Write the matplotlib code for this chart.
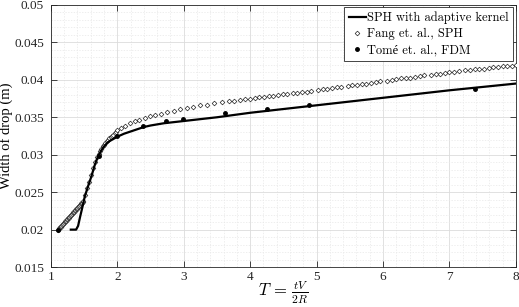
import matplotlib
matplotlib.use("Agg")
import matplotlib.pyplot as plt
from matplotlib.ticker import MultipleLocator

# SPH with adaptive kernel (solid line)
sph_T = [1.30, 1.38, 1.41, 1.44, 1.48, 1.51, 1.56, 1.61, 1.66, 1.71, 1.76, 1.80,
         1.84, 1.88, 1.92, 1.96, 2.00, 2.10, 2.20, 2.30, 2.40, 2.50, 2.70, 3.00,
         3.50, 4.00, 5.00, 6.00, 7.00, 8.00]
sph_W = [0.0200, 0.0200, 0.0205, 0.0217, 0.0232, 0.0244, 0.0258, 0.0271, 0.0286,
         0.0298, 0.0306, 0.0311, 0.0315, 0.0318, 0.0320, 0.0322, 0.0324, 0.0328,
         0.0331, 0.0334, 0.0337, 0.0339, 0.0342, 0.0345, 0.0350, 0.0356, 0.0366,
         0.0376, 0.0386, 0.0395]

# Fang et. al., SPH (diamonds)
fang_T = [1.11, 1.12, 1.13, 1.14, 1.15, 1.16, 1.17, 1.18, 1.19, 1.20, 1.21, 1.22,
          1.23, 1.24, 1.25, 1.26, 1.27, 1.28, 1.29, 1.30, 1.31, 1.32, 1.33, 1.34,
          1.35, 1.36, 1.37, 1.38, 1.39, 1.40, 1.41, 1.42, 1.43, 1.44, 1.45, 1.46,
          1.47, 1.48, 1.49,
          1.52, 1.55, 1.58, 1.61, 1.64, 1.67, 1.70, 1.72, 1.74, 1.76, 1.78, 1.80,
          1.82, 1.84, 1.86, 1.88, 1.90, 1.92, 1.94, 1.96, 1.98, 2.00,
          2.05, 2.12, 2.19, 2.26, 2.33, 2.41, 2.49, 2.57, 2.66, 2.75, 2.85, 2.95,
          3.05, 3.14, 3.24, 3.35, 3.46, 3.57, 3.68, 3.76, 3.84, 3.92, 4.00, 4.07,
          4.14, 4.21, 4.28, 4.35, 4.42, 4.49, 4.56, 4.64, 4.71, 4.78, 4.85, 4.92,
          5.02, 5.09, 5.16, 5.23, 5.30, 5.37, 5.47, 5.54, 5.61, 5.68, 5.75, 5.82,
          5.89, 5.96, 6.06, 6.13, 6.20, 6.27, 6.34, 6.41, 6.48, 6.55, 6.62, 6.72,
          6.79, 6.86, 6.93, 7.00, 7.07, 7.14, 7.24, 7.31, 7.38, 7.45, 7.52, 7.59,
          7.66, 7.73, 7.80, 7.87, 7.94, 8.00]
fang_W = [0.0200, 0.0201, 0.0202, 0.0203, 0.0204, 0.0205, 0.0206, 0.0207, 0.0208,
          0.0209, 0.0210, 0.0211, 0.0212, 0.0213, 0.0214, 0.0215, 0.0216, 0.0217,
          0.0218, 0.0219, 0.0220, 0.0221, 0.0222, 0.0223, 0.0224, 0.0225, 0.0226,
          0.0227, 0.0228, 0.0229, 0.0230, 0.0231, 0.0232, 0.0233, 0.0234, 0.0235,
          0.0236, 0.0237, 0.0238,
          0.0246, 0.0255, 0.0264, 0.0273, 0.0282, 0.0290, 0.0297, 0.0301, 0.0305,
          0.0308, 0.0311, 0.0313, 0.0316, 0.0318, 0.0320, 0.0322, 0.0324, 0.0325,
          0.0327, 0.0329, 0.0331, 0.0333,
          0.0336, 0.0339, 0.0342, 0.0345, 0.0347, 0.0349, 0.0352, 0.0353, 0.0355,
          0.0357, 0.0359, 0.0361, 0.0363, 0.0364, 0.0366, 0.0367, 0.0369, 0.0370,
          0.0372, 0.0372, 0.0373, 0.0374, 0.0375, 0.0376, 0.0377, 0.0377, 0.0378,
          0.0379, 0.0380, 0.0381, 0.0381, 0.0382, 0.0383, 0.0384, 0.0384, 0.0385,
          0.0387, 0.0388, 0.0388, 0.0389, 0.0390, 0.0391, 0.0392, 0.0393, 0.0393,
          0.0394, 0.0395, 0.0396, 0.0397, 0.0398, 0.0399, 0.0400, 0.0401, 0.0402,
          0.0402, 0.0403, 0.0404, 0.0405, 0.0406, 0.0407, 0.0408, 0.0408, 0.0409,
          0.0410, 0.0411, 0.0412, 0.0413, 0.0413, 0.0414, 0.0415, 0.0415, 0.0416,
          0.0417, 0.0417, 0.0418, 0.0419, 0.0419, 0.0420]

# Tome et. al., FDM (dots)
tome_T = [1.11, 1.72, 2.00, 2.38, 2.74, 2.99, 3.62, 4.25, 4.88, 7.38]
tome_W = [0.0200, 0.0298, 0.0325, 0.0338, 0.03455, 0.0348, 0.0356, 0.0361, 0.0367, 0.0388]

x_ticks = [1, 2, 3, 4, 5, 6, 7, 8]
y_ticks = [0.015, 0.02, 0.025, 0.03, 0.035, 0.04, 0.045, 0.05]
y_tick_labels = ["0.015", "0.02", "0.025", "0.03", "0.035", "0.04", "0.045", "0.05"]

plt.rcParams['mathtext.fontset'] = 'cm'

fig = plt.figure(figsize=(5.19, 3.07), dpi=100)
ax = fig.add_axes([0.098, 0.130, 0.896, 0.854])

ax.plot(fang_T, fang_W, linestyle='none', marker='D', markersize=2.4,
        markerfacecolor='white', markeredgecolor='#222222', markeredgewidth=0.5,
        label='Fang et. al., SPH', zorder=3)
ax.plot(sph_T, sph_W, color='black', linewidth=1.6, label='SPH with adaptive kernel', zorder=4)
ax.plot(tome_T, tome_W, linestyle='none', marker='o', markersize=2.5,
        color='black', label='Tomé et. al., FDM', zorder=5)

ax.set_xlim(1, 8)
ax.set_ylim(0.015, 0.05)
ax.set_xticks(x_ticks)
ax.set_yticks(y_ticks)
ax.set_yticklabels(y_tick_labels)
ax.xaxis.set_minor_locator(MultipleLocator(0.2))
ax.yaxis.set_minor_locator(MultipleLocator(0.001))

ax.grid(True, which='major', color='#dcdcdc', linewidth=0.6, linestyle='-')
ax.grid(True, which='minor', color='#e8e8e8', linewidth=0.5, linestyle=(0, (2, 2)))
ax.set_axisbelow(True)

ax.tick_params(which='both', direction='in', top=True, right=True, color='#262626')
ax.tick_params(which='major', length=4, width=0.6, labelsize=9.5)
ax.tick_params(axis='x', which='major', pad=3)
ax.tick_params(axis='y', which='major', pad=5)
ax.tick_params(which='minor', length=0)
for lab in ax.get_xticklabels() + ax.get_yticklabels():
    lab.set_fontfamily('Liberation Serif')
    lab.set_color('#262626')
for sp in ax.spines.values():
    sp.set_color('#262626')
    sp.set_linewidth(0.6)

ax.set_ylabel('Width of drop (m)', fontfamily='Liberation Serif', fontsize=10.5)
ax.yaxis.set_label_coords(-0.081, 0.5)
ax.set_xlabel(r'$T\,=\,\frac{tV}{2R}$', fontsize=12, labelpad=-2)

handles, labels = ax.get_legend_handles_labels()
order = [1, 0, 2]
leg = ax.legend([handles[i] for i in order], [labels[i] for i in order],
                loc='upper right', prop={'family': ['cmr10', 'Liberation Serif'], 'size': 9},
                frameon=True, fancybox=False, edgecolor='#262626', framealpha=1,
                handlelength=1.4, handletextpad=0.1, borderpad=0.35, labelspacing=0.3,
                borderaxespad=0.2)
leg.get_frame().set_linewidth(0.6)

fig.savefig('out.png', dpi=100)
